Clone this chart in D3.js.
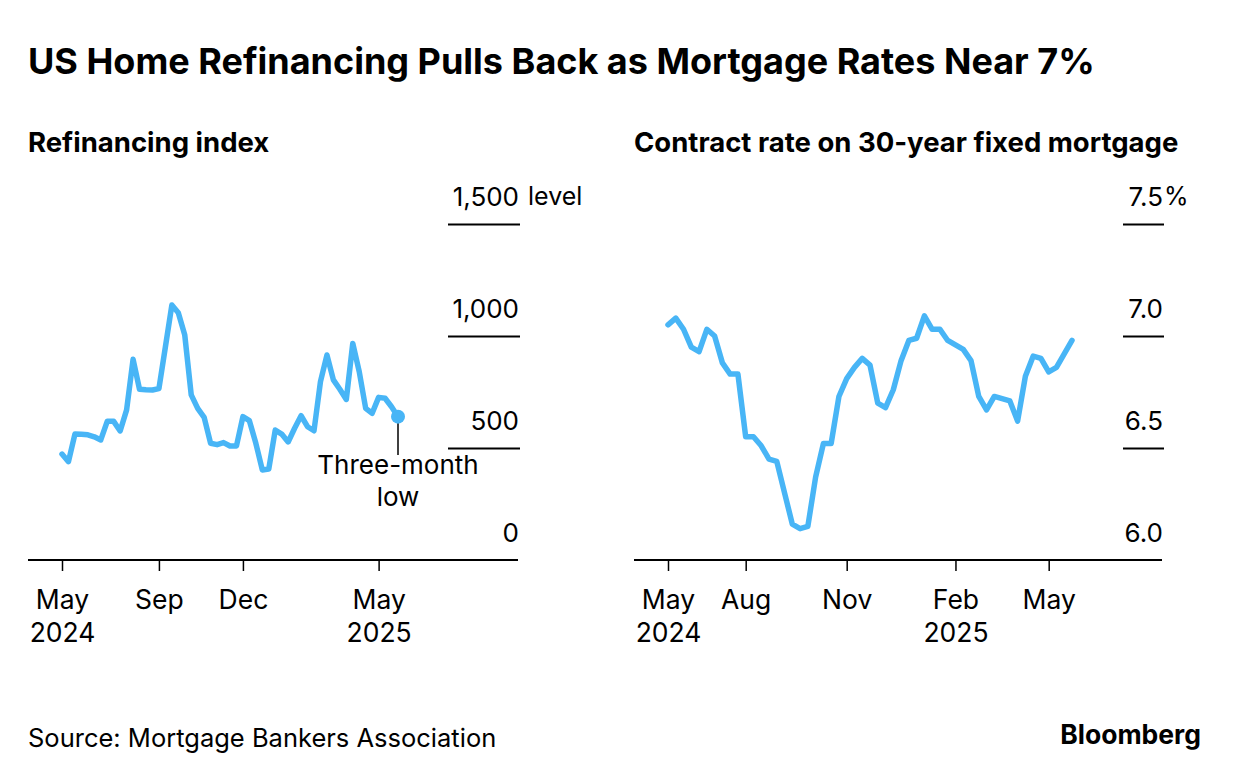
<!DOCTYPE html>
<html>
<head>
<meta charset="utf-8">
<script src="https://cdn.jsdelivr.net/npm/d3@7"></script>
<style>
  body { margin: 0; background: #fff; }
  svg { display: block; font-family: Inter, "Liberation Sans", Arial, sans-serif; }
</style>
</head>
<body>
<div id="chart"></div>
<script>
// Weekly MBA survey dates (week ending)
const weeks = [
  '2024-05-24', '2024-05-31', '2024-06-07', '2024-06-14', '2024-06-21', '2024-06-28',
  '2024-07-05', '2024-07-12', '2024-07-19', '2024-07-26', '2024-08-02', '2024-08-09',
  '2024-08-16', '2024-08-23', '2024-08-30', '2024-09-06', '2024-09-13', '2024-09-20',
  '2024-09-27', '2024-10-04', '2024-10-11', '2024-10-18', '2024-10-25', '2024-11-01',
  '2024-11-08', '2024-11-15', '2024-11-22', '2024-11-29', '2024-12-06', '2024-12-13',
  '2024-12-20', '2024-12-27', '2025-01-03', '2025-01-10', '2025-01-17', '2025-01-24',
  '2025-01-31', '2025-02-07', '2025-02-14', '2025-02-21', '2025-02-28', '2025-03-07',
  '2025-03-14', '2025-03-21', '2025-03-28', '2025-04-04', '2025-04-11', '2025-04-18',
  '2025-04-25', '2025-05-02', '2025-05-09', '2025-05-16', '2025-05-23'
];

// Refinancing index (level)
const refiIndex = [
  473, 439, 562, 561, 559, 550, 536, 619, 619, 576, 670, 896, 762, 760, 759, 765,
  951, 1138, 1104, 1004, 737, 677, 637, 521, 515, 524, 509, 509, 640, 622, 521, 402,
  406, 580, 562, 527, 588, 644, 595, 577, 796, 915, 804, 762, 717, 967, 841, 677,
  655, 726, 722, 684, 640
];

// Contract rate on 30-year fixed mortgage (%)
const mortgageRate = [
  7.05, 7.08, 7.03, 6.95, 6.93, 7.03, 7.00, 6.88, 6.83, 6.83, 6.55, 6.55, 6.51, 6.45,
  6.44, 6.30, 6.16, 6.14, 6.15, 6.37, 6.52, 6.52, 6.73, 6.81, 6.86, 6.90, 6.87, 6.70,
  6.68, 6.76, 6.89, 6.98, 6.99, 7.09, 7.03, 7.03, 6.98, 6.96, 6.94, 6.89, 6.73, 6.67,
  6.73, 6.72, 6.71, 6.62, 6.82, 6.91, 6.90, 6.84, 6.86, 6.92, 6.98
];

// x-axis ticks: [date, first line, second line]
const refiTicks = [
  ['2024-05-24', 'May', '2024'], ['2024-09-06', 'Sep', ''],
  ['2024-12-06', 'Dec', ''], ['2025-05-02', 'May', '2025']
];
const rateTicks = [
  ['2024-05-24', 'May', '2024'], ['2024-08-02', 'Aug', ''],
  ['2024-11-01', 'Nov', ''], ['2025-02-07', 'Feb', '2025'],
  ['2025-05-02', 'May', '']
];

const refiYTicks = [0, 500, 1000, 1500];
const rateYTicks = [6.0, 6.5, 7.0, 7.5];

const lineColor = '#48b5f6';
const fontStack = 'Inter, "Liberation Sans", Arial, sans-serif';
const parseDate = d3.utcParse('%Y-%m-%d');
const dates = weeks.map(parseDate);

const width = 1240;
const height = 780;

const svg = d3.select('#chart')
  .append('svg')
  .attr('width', width)
  .attr('height', height)
  .attr('viewBox', `0 0 ${width} ${height}`);

// Title
svg.append('text')
  .attr('x', 28).attr('y', 74)
  .style('font-size', '36px').style('font-weight', 700)
  .text('US Home Refinancing Pulls Back as Mortgage Rates Near 7%');

// Footer
svg.append('text')
  .attr('x', 28).attr('y', 747)
  .style('font-size', '25.5px')
  .text('Source: Mortgage Bankers Association');

svg.append('text')
  .attr('x', 1201).attr('y', 744)
  .attr('text-anchor', 'end')
  .style('font-size', '26.5px').style('font-weight', 700)
  .text('Bloomberg');

function drawPanel(opts) {
  const g = svg.append('g');

  g.append('text')
    .attr('x', opts.left).attr('y', 152)
    .style('font-size', '27.5px').style('font-weight', 700)
    .text(opts.subtitle);

  const x = d3.scaleUtc()
    .domain(d3.extent(dates))
    .range(opts.xRange);

  const y = d3.scaleLinear()
    .domain(opts.yDomain)
    .range([560, 224]);

  // short gridlines with labels above them, on the right
  const yAxis = g.append('g')
    .attr('transform', `translate(${opts.gridRight}, 0)`)
    .call(d3.axisLeft(y)
      .tickValues(opts.yTicks)
      .tickSize(opts.gridWidth)
      .tickFormat(opts.yFormat));

  yAxis.select('.domain').remove();
  yAxis.selectAll('.tick line')
    .attr('stroke', '#000')
    .attr('stroke-width', 2)
    .filter((d) => d === opts.yDomain[0])
    .remove();
  yAxis.selectAll('.tick text')
    .attr('x', -1)
    .attr('y', -19)
    .attr('dy', 0)
    .attr('text-anchor', 'end')
    .attr('fill', '#000')
    .style('font-size', '26px')
    .style('font-family', fontStack);

  // unit label next to the top tick
  const top = opts.yTicks[opts.yTicks.length - 1];
  g.append('text')
    .attr('x', opts.gridRight + opts.unitGap)
    .attr('y', y(top) - 19)
    .style('font-size', '25px')
    .text(opts.unit);

  // baseline
  g.append('line')
    .attr('x1', opts.baseline[0]).attr('x2', opts.baseline[1])
    .attr('y1', y(opts.yDomain[0])).attr('y2', y(opts.yDomain[0]))
    .attr('stroke', '#000').attr('stroke-width', 2);

  // x axis
  const tickMap = new Map(opts.xTicks.map((t) => [+parseDate(t[0]), t]));
  const xAxis = g.append('g')
    .attr('transform', `translate(0, ${y(opts.yDomain[0])})`)
    .call(d3.axisBottom(x)
      .tickValues(opts.xTicks.map((t) => parseDate(t[0])))
      .tickSize(11)
      .tickFormat(''));

  xAxis.select('.domain').remove();
  xAxis.selectAll('.tick line').attr('stroke', '#000').attr('stroke-width', 1.5);
  xAxis.selectAll('.tick text').remove();
  xAxis.selectAll('.tick').each(function (d) {
    const t = tickMap.get(+d);
    const label = d3.select(this).append('text')
      .attr('text-anchor', 'middle')
      .attr('fill', '#000')
      .style('font-size', '26.5px')
      .style('font-family', fontStack);
    label.append('tspan').attr('x', 0).attr('y', 49).text(t[1]);
    if (t[2]) label.append('tspan').attr('x', 0).attr('y', 82).text(t[2]);
  });

  // series line
  const line = d3.line()
    .x((d, i) => x(dates[i]))
    .y((d) => y(d));

  g.append('path')
    .datum(opts.values)
    .attr('fill', 'none')
    .attr('stroke', lineColor)
    .attr('stroke-width', 5.5)
    .attr('stroke-linejoin', 'round')
    .attr('stroke-linecap', 'round')
    .attr('d', line);

  return { g, x, y };
}

const refi = drawPanel({
  left: 28,
  subtitle: 'Refinancing index',
  xRange: [62, 398],
  yDomain: [0, 1500],
  yTicks: refiYTicks,
  yFormat: d3.format(','),
  gridRight: 520,
  gridWidth: 72,
  unit: 'level',
  unitGap: 8,
  baseline: [28, 518],
  xTicks: refiTicks,
  values: refiIndex
});

drawPanel({
  left: 634,
  subtitle: 'Contract rate on 30-year fixed mortgage',
  xRange: [668, 1072],
  yDomain: [6, 7.5],
  yTicks: rateYTicks,
  yFormat: d3.format('.1f'),
  gridRight: 1164,
  gridWidth: 41,
  unit: '%',
  unitGap: 0,
  baseline: [634, 1162],
  xTicks: rateTicks,
  values: mortgageRate
});

// Three-month low annotation on the last refinancing point
const lastIdx = refiIndex.length - 1;
const lx = refi.x(dates[lastIdx]);
const ly = refi.y(refiIndex[lastIdx]);

refi.g.append('line')
  .attr('x1', lx).attr('x2', lx)
  .attr('y1', ly).attr('y2', 455)
  .attr('stroke', '#000').attr('stroke-width', 1.5);

refi.g.append('circle')
  .attr('cx', lx).attr('cy', ly).attr('r', 7)
  .attr('fill', lineColor);

const note = refi.g.append('text')
  .attr('text-anchor', 'middle')
  .style('font-size', '26px');
note.append('tspan').attr('x', lx).attr('y', 474).text('Three-month');
note.append('tspan').attr('x', lx).attr('y', 506).text('low');
</script>
</body>
</html>
